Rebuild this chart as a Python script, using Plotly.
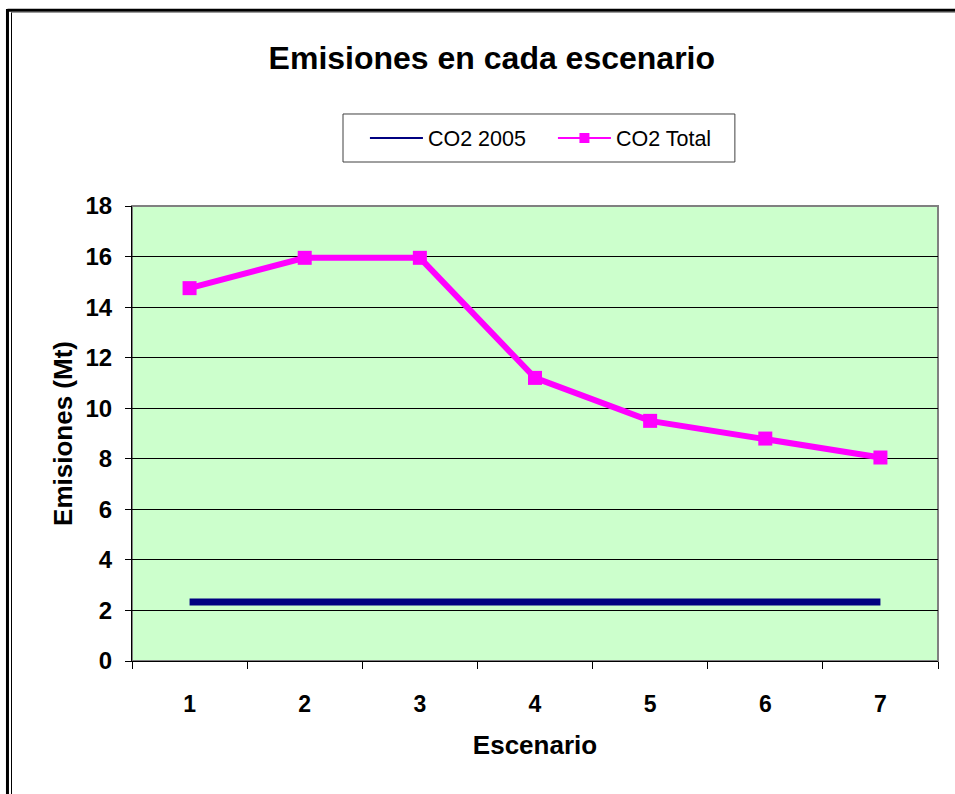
import plotly.graph_objects as go

# escenarios y emisiones (Mt)
escenarios = ['1', '2', '3', '4', '5', '6', '7']
co2_2005 = [2.33, 2.33, 2.33, 2.33, 2.33, 2.33, 2.33]
co2_total = [14.75, 15.95, 15.95, 11.2, 9.5, 8.8, 8.05]

FONT = 'Liberation Sans, Arial, sans-serif'
NAVY = '#000080'
MAGENTA = '#FF00FF'

data = [
    go.Scatter(x=escenarios, y=co2_2005, mode='lines', name='CO2 2005',
               line=dict(color=NAVY, width=7), showlegend=False),
    go.Scatter(x=escenarios, y=co2_total, mode='lines+markers', name='CO2 Total',
               line=dict(color=MAGENTA, width=6),
               marker=dict(symbol='square', size=14, color=MAGENTA), showlegend=False),
    # legend entries (thin samples like the original)
    go.Scatter(x=[None], y=[None], mode='lines', name='CO2 2005',
               line=dict(color=NAVY, width=2)),
    go.Scatter(x=[None], y=[None], mode='lines+markers', name='CO2 Total',
               line=dict(color=MAGENTA, width=2),
               marker=dict(symbol='square', size=10, color=MAGENTA)),
]

layout = go.Layout(
    width=955, height=794,
    paper_bgcolor='white', plot_bgcolor='#CCFFCC',
    margin=dict(l=132, r=17, t=206, b=133),
    font=dict(family=FONT, color='black'),
    title=dict(text='<b>Emisiones en cada escenario</b>', x=0.515, xanchor='center',
               y=1 - 58 / 794, yanchor='middle', font=dict(size=32)),
    showlegend=True,
    legend=dict(orientation='h', x=0.289, xanchor='left', y=1.1495, yanchor='middle',
                bgcolor='rgba(0,0,0,0)', borderwidth=0,
                font=dict(size=21.5), itemwidth=53, entrywidth=120),
    xaxis=dict(type='category', range=[-0.5, 6.5], tickson='boundaries', ticks='outside',
               ticklen=7, tickcolor='black', showline=True, linecolor='black', linewidth=1,
               showgrid=False, tickfont=dict(size=23), ticklabelstandoff=22,
               tickprefix='<b>', ticksuffix='</b>',
               title=dict(text='<b>Escenario</b>', font=dict(size=26), standoff=20)),
    yaxis=dict(range=[0, 18], dtick=2, ticks='outside', ticklen=6, tickcolor='black',
               showline=True, linecolor='black', linewidth=1,
               showgrid=True, gridcolor='black', gridwidth=1, zeroline=False,
               tickfont=dict(size=24), ticklabelstandoff=8,
               tickprefix='<b>', ticksuffix='</b>',
               title=dict(text='<b>Emisiones (Mt)</b>', font=dict(size=26), standoff=5)),
    shapes=[
        # gray border of plot area (top / right)
        dict(type='rect', xref='paper', yref='paper', x0=0, y0=0, x1=1, y1=1,
             line=dict(color='#808080', width=2), layer='below'),
        # legend box
        dict(type='rect', xref='paper', yref='paper', x0=0.2618, x1=0.748,
             y0=1.0967, y1=1.2022, line=dict(color='#404040', width=1),
             fillcolor='white', layer='below'),
        # outer chart frame
        dict(type='line', xref='paper', yref='paper', x0=-0.1545, x1=1.05, y0=1.43, y1=1.43,
             line=dict(color='black', width=3)),
        dict(type='line', xref='paper', yref='paper', x0=-0.149, x1=1.05, y0=1.4255, y1=1.4255,
             line=dict(color='#909090', width=1)),
        dict(type='line', xref='paper', yref='paper', x0=-0.1545, x1=-0.1545, y0=1.433, y1=-0.4,
             line=dict(color='black', width=3)),
        dict(type='line', xref='paper', yref='paper', x0=-0.1495, x1=-0.1495, y0=1.4255, y1=-0.4,
             line=dict(color='black', width=1)),
    ],
)

fig = go.Figure(data=data, layout=layout)
fig.write_html('out.html', config={'displayModeBar': False},
               post_script="document.body.style.margin='0';")
